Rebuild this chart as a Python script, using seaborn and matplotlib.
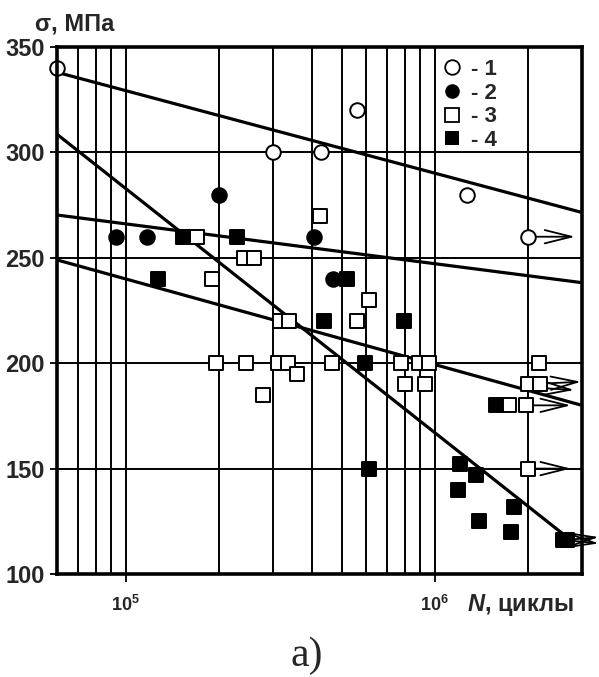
import matplotlib
matplotlib.use("Agg")
import matplotlib.pyplot as plt
import numpy as np
import pandas as pd
import seaborn as sns
from matplotlib.lines import Line2D
from matplotlib.ticker import FixedLocator, NullFormatter

# ---- fatigue test results: cycles to failure N and stress amplitude sigma (MPa) ----
s1_N = [6.0e4, 3.0e5, 4.3e5, 5.6e5, 1.27e6, 2.0e6]
s1_S = [340, 300, 300, 320, 280, 260]

s2_N = [9.3e4, 1.17e5, 2.0e5, 4.08e5, 4.7e5]
s2_S = [260, 260, 280, 260, 240]

s3_N = [1.70e5, 2.42e5, 2.61e5, 1.90e5, 4.25e5, 6.15e5, 5.6e5, 3.17e5, 3.38e5,
        1.96e5, 2.45e5, 3.12e5, 3.36e5, 3.58e5, 2.79e5, 4.66e5, 7.76e5, 8.89e5,
        9.6e5, 8.05e5, 9.3e5, 2.18e6, 2.0e6, 2.19e6, 1.74e6, 1.97e6, 2.0e6]
s3_S = [260, 250, 250, 240, 270, 230, 220, 220, 220,
        200, 200, 200, 200, 195, 185, 200, 200, 200,
        200, 190, 190, 200, 190, 190, 180, 180, 150]

s4_N = [1.53e5, 2.30e5, 1.27e5, 5.21e5, 4.4e5, 7.95e5, 5.94e5, 6.12e5, 1.58e6,
        1.21e6, 1.36e6, 1.19e6, 1.81e6, 1.39e6, 1.77e6, 2.60e6, 2.68e6]
s4_S = [260, 260, 240, 240, 220, 220, 200, 150, 180,
        152, 147, 140, 132, 125, 120, 116, 116]

# regression lines (end points)
fit_N0 = [6.0e4, 6.0e4, 6.0e4, 6.0e4]
fit_S0 = [338.0, 308.6, 270.3, 249.0]
fit_N1 = [3.0e6, 2.63e6, 3.0e6, 3.0e6]
fit_S1 = [271.5, 118.5, 238.2, 180.0]

# run-out specimens (did not fail): start -> arrow tip
run_N0 = [2.0e6, 2.0e6, 2.05e6, 1.97e6, 2.0e6, 2.60e6, 2.68e6]
run_S0 = [260, 190, 188.5, 180, 150, 116, 116]
run_N1 = [2.85e6, 2.98e6, 2.83e6, 2.76e6, 2.76e6, 3.4e6, 3.4e6]
run_S1 = [260, 191.2, 187.3, 180, 150, 117.5, 114.5]

legend_labels = ["- 1", "- 2", "- 3", "- 4"]
y_ticks = [100, 150, 200, 250, 300, 350]
x_major = [1e5, 1e6]
x_major_labels = [r"$10^{5}$", r"$10^{6}$"]

sns.set_theme(style="white")
plt.rcParams["font.family"] = ["Liberation Sans", "DejaVu Sans"]
plt.rcParams["mathtext.fontset"] = "custom"
plt.rcParams["mathtext.rm"] = "Liberation Sans:bold"
plt.rcParams["mathtext.bf"] = "Liberation Sans:bold"
plt.rcParams["mathtext.it"] = "Liberation Sans:bold:italic"

W, H = 599, 677
fig = plt.figure(figsize=(W / 100, H / 100), dpi=100)
ax = fig.add_axes([57 / W, 1 - 574 / H, (582 - 57) / W, (574 - 47) / H])
ax.set_xscale("log")
ax.set_xlim(6e4, 3e6)
ax.set_ylim(100, 350)

# grid
ax.xaxis.set_major_locator(FixedLocator(x_major))
ax.xaxis.set_minor_locator(FixedLocator(
    [m * 10 ** e for e in (4, 5, 6) for m in range(2, 10)]))
ax.xaxis.set_minor_formatter(NullFormatter())
ax.set_xticklabels(x_major_labels)
ax.set_yticks(y_ticks)
ax.set_yticklabels([str(v) for v in y_ticks])
ax.grid(True, which="both", axis="x", color="black", lw=1.4)
ax.grid(True, which="major", axis="y", color="black", lw=1.4)
ax.set_axisbelow(True)

ax.tick_params(axis="x", which="major", direction="out", length=6, width=1.3,
               color="black", pad=9, labelsize=13, bottom=True)
ax.tick_params(axis="x", which="minor", length=0)
ax.tick_params(axis="y", which="major", direction="out", length=5, width=1.3,
               color="black", pad=4, labelsize=17, left=True)
for lab in ax.get_yticklabels():
    lab.set_fontweight("bold")
for sp in ax.spines.values():
    sp.set_color("black")
    sp.set_linewidth(2.6)
    sp.set_zorder(6)

# regression lines
for i in range(len(fit_N0)):
    df_line = pd.DataFrame({"N": [fit_N0[i], fit_N1[i]],
                            "S": [fit_S0[i], fit_S1[i]]})
    sns.lineplot(data=df_line, x="N", y="S", ax=ax, color="black", lw=2.3,
                 sort=False, estimator=None, zorder=3, legend=False)

# run-out arrows
for n0, s0, n1, s1 in zip(run_N0, run_S0, run_N1, run_S1):
    ax.annotate("", xy=(n1, s1), xytext=(n0, s0), xycoords="data",
                annotation_clip=False,
                arrowprops=dict(arrowstyle="->,head_length=1.6,head_width=0.4",
                                lw=1.3, color="black", shrinkA=0, shrinkB=0),
                zorder=4)

# data points
styles = [
    (s1_N, s1_S, "o", "white"),
    (s2_N, s2_S, "o", "black"),
    (s3_N, s3_S, "s", "white"),
    (s4_N, s4_S, "s", "black"),
]
for n, s, mk, fc in styles:
    df = pd.DataFrame({"N": n, "S": s})
    sns.scatterplot(data=df, x="N", y="S", ax=ax, marker=mk, s=110,
                    color=fc, edgecolor="black", linewidth=1.4, zorder=5,
                    legend=False, clip_on=False)

ax.set_xlabel("")
ax.set_ylabel("")

handles = [Line2D([], [], ls="none", marker=mk, markersize=10.5,
                  markerfacecolor=fc, markeredgecolor="black",
                  markeredgewidth=1.3 if fc == "white" else 0)
           for _, _, mk, fc in styles]
ax.legend(handles, legend_labels, loc="upper left",
          bbox_to_anchor=(443 / W, 1 - 59 / H), bbox_transform=fig.transFigure,
          frameon=False, prop={"weight": "bold", "size": 16},
          handlelength=0.8, handletextpad=0.45, labelspacing=0.12,
          borderpad=0, borderaxespad=0)

fig.text(35 / W, 1 - 30 / H, "σ, МПа", fontsize=17, fontweight="bold",
         ha="left", va="baseline")
fig.text(467 / W, 1 - 611 / H, r"$N$, циклы", fontsize=17, fontweight="bold",
         ha="left", va="baseline")
fig.text(307 / W, 1 - 666 / H, "а)", fontsize=30, family="Liberation Serif",
         ha="center", va="baseline")

fig.savefig("out.png", dpi=100)
